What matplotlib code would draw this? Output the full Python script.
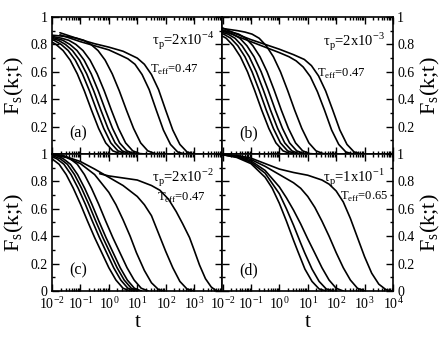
import numpy as np
import matplotlib
matplotlib.use("Agg")
import matplotlib.pyplot as plt
from matplotlib.ticker import FixedLocator, FixedFormatter, LogLocator, MultipleLocator, NullFormatter

plt.rcParams['font.family'] = ['Liberation Serif', 'DejaVu Serif']
plt.rcParams['mathtext.fontset'] = 'custom'
plt.rcParams['mathtext.rm'] = 'Liberation Serif'

# ---- data: log10(t) and F_s(k;t) for every curve ----
# panel (a)
a_logt = [
    [-2, -1.86, -1.61, -1.36, -1.11, -0.86, -0.61, -0.36, -0.11, 0.14, 0.39, 0.59],
    [-2, -1.93, -1.68, -1.43, -1.18, -0.93, -0.68, -0.43, -0.18, 0.07, 0.32, 0.57, 0.77],
    [-2, -1.78, -1.53, -1.28, -1.03, -0.78, -0.53, -0.28, -0.03, 0.22, 0.47, 0.72, 0.92],
    [-2, -1.87, -1.62, -1.37, -1.12, -0.87, -0.62, -0.37, -0.12, 0.13, 0.38, 0.63, 0.88, 1.08],
    [-2, -1.91, -1.66, -1.41, -1.16, -0.91, -0.66, -0.41, -0.16, 0.09, 0.34, 0.59, 0.84, 1.09, 1.29],
    [-2, -1.88, -1.38, -1.13, -0.88, -0.63, -0.38, -0.13, 0.12, 0.37, 0.62, 0.87, 1.12, 1.37, 1.62, 1.82],
    [-1.72, -1.5, -1, -0.5, 0, 0.42, 0.67, 0.92, 1.17, 1.42, 1.67, 1.92, 2.17, 2.42, 2.67],
    [-1.72, -1.5, -1, -0.5, 0, 0.5, 1.0, 1.25, 1.5, 1.75, 2.0, 2.25, 2.5, 2.75, 2.95],
]
a_F = [
    [.817, .80, .755, .685, .585, .46, .32, .187, .081, .023, .003, 0],
    [.834, .83, .80, .755, .685, .585, .46, .32, .187, .081, .023, .003, 0],
    [.843, .83, .80, .755, .685, .585, .46, .32, .187, .081, .023, .003, 0],
    [.85, .845, .83, .80, .755, .685, .585, .46, .32, .187, .081, .023, .003, 0],
    [.857, .855, .845, .83, .80, .755, .685, .585, .46, .32, .187, .081, .023, .003, 0],
    [.867, .865, .855, .845, .83, .80, .755, .685, .585, .46, .32, .187, .081, .023, .003, 0],
    [.87, .855, .82, .79, .76, .72, .695, .655, .58, .47, .32, .175, .07, .015, 0],
    [.885, .87, .835, .805, .78, .75, .70, .655, .58, .47, .32, .175, .07, .015, 0],
]

# panel (b)
b_logt = [
    [-2, -1.87, -1.62, -1.37, -1.12, -0.87, -0.62, -0.37, -0.12, 0.13, 0.38, 0.58],
    [-2, -1.96, -1.71, -1.46, -1.21, -0.96, -0.71, -0.46, -0.21, 0.04, 0.29, 0.54, 0.74],
    [-2, -1.81, -1.56, -1.31, -1.06, -0.81, -0.56, -0.31, -0.06, 0.19, 0.44, 0.69, 0.89],
    [-2, -1.89, -1.64, -1.39, -1.14, -0.89, -0.64, -0.39, -0.14, 0.11, 0.36, 0.61, 0.86, 1.06],
    [-2, -1.93, -1.68, -1.43, -1.18, -0.93, -0.68, -0.43, -0.18, 0.07, 0.32, 0.57, 0.82, 1.07, 1.27],
    [-2, -1.96, -1.46, -1.21, -0.96, -0.71, -0.46, -0.21, 0.04, 0.29, 0.54, 0.79, 1.04, 1.29, 1.54, 1.74],
    [-2, -1.5, -1, -0.5, 0, 0.34, 0.59, 0.84, 1.09, 1.34, 1.59, 1.84, 2.09, 2.34, 2.59],
    [-2, -1.5, -1, -0.5, 0, 0.5, 0.88, 1.13, 1.38, 1.63, 1.88, 2.13, 2.38, 2.63, 2.88],
]
b_F = [
    [.86, .845, .79, .71, .60, .465, .32, .187, .081, .023, .003, 0],
    [.877, .875, .845, .79, .71, .60, .465, .32, .187, .081, .023, .003, 0],
    [.887, .875, .845, .79, .71, .60, .465, .32, .187, .081, .023, .003, 0],
    [.895, .89, .875, .845, .79, .71, .60, .465, .32, .187, .081, .023, .003, 0],
    [.902, .90, .89, .875, .845, .79, .71, .60, .465, .32, .187, .081, .023, .003, 0],
    [.915, .915, .90, .89, .875, .845, .79, .71, .60, .465, .32, .187, .081, .023, .003, 0],
    [.905, .86, .82, .78, .74, .71, .68, .635, .565, .455, .32, .175, .07, .015, 0],
    [.92, .875, .835, .80, .765, .725, .69, .645, .57, .46, .32, .175, .07, .015, 0],
]

# panel (c)
c_logt = [
    [-2, -1.75, -1.5, -1.25, -1, -0.75, -0.5, -0.25, 0, 0.25, 0.5, 0.75],
    [-2, -1.83, -1.58, -1.33, -1.08, -0.83, -0.58, -0.33, -0.08, 0.17, 0.42, 0.67, 0.92],
    [-2, -1.71, -1.46, -1.21, -0.96, -0.71, -0.46, -0.21, 0.04, 0.29, 0.54, 0.79, 1.04],
    [-2, -1.85, -1.6, -1.35, -1.1, -0.85, -0.6, -0.35, -0.1, 0.15, 0.4, 0.65, 0.9, 1.15],
    [-2, -1.61, -1.36, -1.11, -0.86, -0.61, -0.36, -0.11, 0.14, 0.39, 0.64, 0.89, 1.14, 1.39],
    [-2, -1.5, -1.0, -0.5, 0, 0.25, 0.5, 0.75, 0.97, 1.25, 1.5, 1.75, 1.95],
    [-2, -1.5, -1, -0.5, 0, 0.5, 1.0, 1.25, 1.5, 1.75, 2.0, 2.25, 2.5, 2.75, 2.95],
    [-0.32, 0, 0.5, 1.0, 1.5, 1.8, 2.1, 2.37, 2.6, 2.84, 3.0, 3.19, 3.4, 3.6, 3.75, 3.85],
]
c_F = [
    [.965, .925, .85, .75, .635, .51, .39, .28, .17, .08, .02, 0],
    [.98, .965, .925, .85, .75, .635, .51, .39, .28, .17, .08, .02, 0],
    [.99, .965, .925, .85, .75, .635, .51, .39, .28, .17, .08, .02, 0],
    [.995, .99, .965, .925, .85, .75, .635, .51, .39, .28, .17, .08, .02, 0],
    [.995, .99, .965, .925, .85, .75, .635, .51, .39, .28, .17, .08, .02, 0],
    [.995, .975, .93, .85, .72, .63, .52, .40, .28, .15, .06, .01, 0],
    [.995, .98, .945, .89, .83, .77, .69, .63, .55, .42, .29, .17, .07, .015, 0],
    [.856, .84, .825, .81, .77, .735, .67, .58, .49, .39, .30, .19, .09, .03, .006, 0],
]

# panel (d)
d_logt = [
    [-2, -1.5, -1, -0.5, -0.25, 0, 0.25, 0.5, 0.65, 0.9, 1.15, 1.4, 1.65],
    [-2, -1.5, -1, -0.5, 0, 0.25, 0.5, 0.75, 0.89, 1.15, 1.4, 1.65, 1.9],
    [-2, -1.5, -1, -0.5, 0, 0.25, 0.5, 0.75, 1.0, 1.24, 1.5, 1.75, 2.0, 2.25],
    [-2, -1.5, -1, -0.5, 0, 0.5, 0.75, 1.0, 1.25, 1.5, 1.75, 2.0, 2.25, 2.5, 2.75, 3.0],
    [-2, -1.5, -1, -0.5, 0, 0.5, 1.0, 1.5, 1.75, 2.0, 2.25, 2.5, 2.75, 3.0, 3.25, 3.5, 3.75, 3.95],
]
d_F = [
    [.995, .975, .93, .83, .75, .64, .51, .37, .29, .16, .07, .015, 0],
    [.995, .98, .94, .86, .71, .60, .48, .35, .28, .16, .07, .015, 0],
    [.995, .98, .95, .88, .76, .68, .59, .49, .38, .28, .17, .08, .02, 0],
    [.995, .985, .96, .91, .85, .79, .75, .69, .61, .51, .40, .28, .17, .08, .02, 0],
    [.995, .99, .97, .93, .89, .865, .845, .81, .78, .73, .65, .53, .39, .25, .13, .05, .01, 0],
]

tau_labels = ['τ$_\\mathregular{p}$=2x10$^\\mathregular{-4}$', 'τ$_\\mathregular{p}$=2x10$^\\mathregular{-3}$',
              'τ$_\\mathregular{p}$=2x10$^\\mathregular{-2}$', 'τ$_\\mathregular{p}$=1x10$^\\mathregular{-1}$']
teff_labels = ['T$_\\mathregular{eff}$=0.47', 'T$_\\mathregular{eff}$=0.47',
               'T$_\\mathregular{eff}$=0.47', 'T$_\\mathregular{eff}$=0.65']
panel_labels = ['(a)', '(b)', '(c)', '(d)']

x_exps = [-2, -1, 0, 1, 2, 3, 4]
x_ticklabels = ['10$^\\mathregular{%d}$' % e for e in x_exps]
y_ticks = [0, 0.2, 0.4, 0.6, 0.8, 1.0]
y_ticklabels = ['0', '0.2', '0.4', '0.6', '0.8', '1']

# ---- figure ----
fig = plt.figure(figsize=(4.43, 3.42), dpi=100)
W, H = 443.0, 342.0
x0, xm, x1 = 52, 222.5, 392
y0, ym, y1 = 17, 154, 291
pw = (xm - x0) / W
ph = (ym - y0) / H

boxes = [
    [x0 / W, 1 - ym / H, pw, ph],
    [xm / W, 1 - ym / H, pw, ph],
    [x0 / W, 1 - y1 / H, pw, ph],
    [xm / W, 1 - y1 / H, pw, ph],
]
all_logt = [a_logt, b_logt, c_logt, d_logt]
all_F = [a_F, b_F, c_F, d_F]

# text anchors in axes fraction
tau_xy = [(0.585, 0.80), (0.59, 0.79), (0.585, 0.80), (0.59, 0.80)]
teff_xy = [(0.575, 0.595), (0.555, 0.565), (0.615, 0.66), (0.69, 0.665)]

for i in range(4):
    ax = fig.add_axes(boxes[i])
    for lt, f in zip(all_logt[i], all_F[i]):
        ax.plot(10 ** np.array(lt), f, color='black', lw=1.2, solid_capstyle='round')

    ax.set_xscale('log')
    ax.set_xlim(1e-2, 1e4)
    ax.set_ylim(0, 1)
    for s in ax.spines.values():
        s.set_linewidth(1.2)

    ax.xaxis.set_major_locator(FixedLocator([10.0 ** e for e in x_exps]))
    ax.xaxis.set_minor_locator(LogLocator(base=10, subs=np.arange(2, 10), numticks=20))
    ax.xaxis.set_minor_formatter(NullFormatter())
    ax.yaxis.set_major_locator(FixedLocator(y_ticks))
    ax.yaxis.set_minor_locator(MultipleLocator(0.1))
    ax.tick_params(which='both', direction='in', top=True, bottom=True, left=True, right=True,
                   labelsize=10, width=1.0)
    ax.tick_params(which='major', length=5, pad=3)
    ax.tick_params(which='minor', length=2.5)

    bottom_row = i >= 2
    right_col = i % 2 == 1

    if bottom_row:
        labs = x_ticklabels if right_col else x_ticklabels[:-1] + ['']
        ax.xaxis.set_major_formatter(FixedFormatter(labs))
        ax.set_xlabel('t', fontsize=15, labelpad=1)
    else:
        ax.tick_params(labelbottom=False)

    ylabs = y_ticklabels if bottom_row else [''] + y_ticklabels[1:]
    ax.yaxis.set_major_formatter(FixedFormatter(ylabs))
    if right_col:
        ax.tick_params(labelleft=False, labelright=True)
        ax.yaxis.set_label_position('right')
    ax.set_ylabel('F$_\\mathregular{s}$(k;t)', fontsize=16, labelpad=3)

    ax.text(tau_xy[i][0], tau_xy[i][1], tau_labels[i], transform=ax.transAxes, fontsize=10.5)
    ax.text(teff_xy[i][0], teff_xy[i][1], teff_labels[i], transform=ax.transAxes, fontsize=9)
    ax.text(0.10, 0.12, panel_labels[i], transform=ax.transAxes, fontsize=11.5)

fig.savefig('out.png', dpi=100)
